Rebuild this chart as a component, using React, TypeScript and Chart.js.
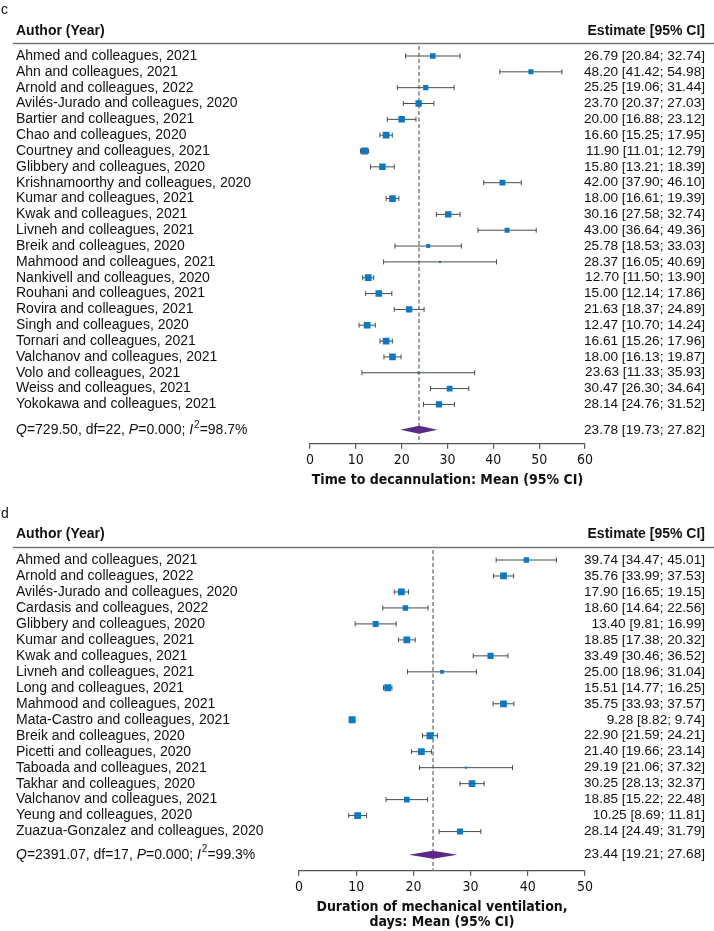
import React, { useEffect, useRef } from "react";
import { Chart, registerables } from "chart.js";

Chart.register(...registerables);

// ---------- Panel c: Time to decannulation ----------
const studiesC = [
  "Ahmed and colleagues, 2021",
  "Ahn and colleagues, 2021",
  "Arnold and colleagues, 2022",
  "Avilés-Jurado and colleagues, 2020",
  "Bartier and colleagues, 2021",
  "Chao and colleagues, 2020",
  "Courtney and colleagues, 2021",
  "Glibbery and colleagues, 2020",
  "Krishnamoorthy and colleagues, 2020",
  "Kumar and colleagues, 2021",
  "Kwak and colleagues, 2021",
  "Livneh and colleagues, 2021",
  "Breik and colleagues, 2020",
  "Mahmood and colleagues, 2021",
  "Nankivell and colleagues, 2020",
  "Rouhani and colleagues, 2021",
  "Rovira and colleagues, 2021",
  "Singh and colleagues, 2020",
  "Tornari and colleagues, 2021",
  "Valchanov and colleagues, 2021",
  "Volo and colleagues, 2021",
  "Weiss and colleagues, 2021",
  "Yokokawa and colleagues, 2021",
];
const meanC = [26.79, 48.2, 25.25, 23.7, 20.0, 16.6, 11.9, 15.8, 42.0, 18.0, 30.16, 43.0, 25.78, 28.37, 12.7, 15.0, 21.63, 12.47, 16.61, 18.0, 23.63, 30.47, 28.14];
const lowerC = [20.84, 41.42, 19.06, 20.37, 16.88, 15.25, 11.01, 13.21, 37.9, 16.61, 27.58, 36.64, 18.53, 16.05, 11.5, 12.14, 18.37, 10.7, 15.26, 16.13, 11.33, 26.3, 24.76];
const upperC = [32.74, 54.98, 31.44, 27.03, 23.12, 17.95, 12.79, 18.39, 46.1, 19.39, 32.74, 49.36, 33.03, 40.69, 13.9, 17.86, 24.89, 14.24, 17.96, 19.87, 35.93, 34.64, 31.52];
const weightsC = [4.0, 3.2, 3.4, 5.2, 5.3, 5.8, 6.0, 5.4, 4.3, 5.8, 5.3, 3.0, 2.0, 0.6, 5.9, 5.5, 5.2, 5.7, 5.8, 5.6, 0.6, 4.3, 5.0];
const summaryC = [23.78, 19.73, 27.82];
const statsC = { Q: "729.50", df: "22", P: "0.000", I2: "98.7%" };
const xTicksC = [0, 10, 20, 30, 40, 50, 60];
const xTitleC = "Time to decannulation: Mean (95% CI)";

// ---------- Panel d: Duration of mechanical ventilation ----------
const studiesD = [
  "Ahmed and colleagues, 2021",
  "Arnold and colleagues, 2022",
  "Avilés-Jurado and colleagues, 2020",
  "Cardasis and colleagues, 2022",
  "Glibbery and colleagues, 2020",
  "Kumar and colleagues, 2021",
  "Kwak and colleagues, 2021",
  "Livneh and colleagues, 2021",
  "Long and colleagues, 2021",
  "Mahmood and colleagues, 2021",
  "Mata-Castro and colleagues, 2021",
  "Breik and colleagues, 2020",
  "Picetti and colleagues, 2020",
  "Taboada and colleagues, 2021",
  "Takhar and colleagues, 2020",
  "Valchanov and colleagues, 2021",
  "Yeung and colleagues, 2020",
  "Zuazua-Gonzalez and colleagues, 2020",
];
const meanD = [39.74, 35.76, 17.9, 18.6, 13.4, 18.85, 33.49, 25.0, 15.51, 35.75, 9.28, 22.9, 21.4, 29.19, 30.25, 18.85, 10.25, 28.14];
const lowerD = [34.47, 33.99, 16.65, 14.64, 9.81, 17.38, 30.46, 18.96, 14.77, 33.93, 8.82, 21.59, 19.66, 21.06, 28.13, 15.22, 8.69, 24.49];
const upperD = [45.01, 37.53, 19.15, 22.56, 16.99, 20.32, 36.52, 31.04, 16.25, 37.57, 9.74, 24.21, 23.14, 37.32, 32.37, 22.48, 11.81, 31.79];
const weightsD = [3.6, 5.8, 5.8, 3.8, 4.6, 5.8, 4.8, 1.8, 6.0, 5.8, 6.2, 6.0, 5.8, 0.6, 5.6, 4.2, 5.8, 4.6];
const summaryD = [23.44, 19.21, 27.68];
const statsD = { Q: "2391.07", df: "17", P: "0.000", I2: "99.3%" };
const xTicksD = [0, 10, 20, 30, 40, 50];
const xTitleD = ["Duration of mechanical ventilation,", "days: Mean (95% CI)"];

// ---------- styling ----------
const SANS = '"Liberation Sans", Arial, Helvetica, sans-serif';
const NARROW = '"Liberation Sans Narrow", "Arial Narrow", "DejaVu Sans Condensed", sans-serif';
const TEXT = "#111111";
const SQUARE = "#0879c6";
const WHISKER = "#4a4a4a";
const DIAMOND = "#5b2a86";
const RIGHT_X = 705;

const fmt = (v: number) => v.toFixed(2);

const forestPlugin = {
  id: "forest",
  beforeDatasetsDraw(chart: any, _a: any, o: any) {
    const { ctx, chartArea, scales } = chart;
    const x = scales.x;
    const y = scales.y;
    ctx.save();
    // reference (summary) dashed line
    const xs = x.getPixelForValue(o.summary[0]);
    ctx.strokeStyle = "#808080";
    ctx.lineWidth = 1.5;
    ctx.setLineDash([4, 2.5]);
    ctx.beginPath();
    ctx.moveTo(xs, chartArea.top);
    ctx.lineTo(xs, chartArea.bottom);
    ctx.stroke();
    ctx.setLineDash([]);
    // whiskers
    ctx.strokeStyle = WHISKER;
    ctx.lineWidth = 1;
    o.lower.forEach((lo: number, i: number) => {
      const yy = y.getPixelForValue(i);
      const x1 = x.getPixelForValue(lo);
      const x2 = x.getPixelForValue(o.upper[i]);
      ctx.beginPath();
      ctx.moveTo(x1, yy);
      ctx.lineTo(x2, yy);
      ctx.moveTo(x1, yy - 2.5);
      ctx.lineTo(x1, yy + 2.5);
      ctx.moveTo(x2, yy - 2.5);
      ctx.lineTo(x2, yy + 2.5);
      ctx.stroke();
    });
    // summary diamond
    const ys = y.getPixelForValue(o.summaryRow);
    const xl = x.getPixelForValue(o.summary[1]);
    const xh = x.getPixelForValue(o.summary[2]);
    ctx.fillStyle = DIAMOND;
    ctx.beginPath();
    ctx.moveTo(xl, ys);
    ctx.lineTo(xs, ys - 4);
    ctx.lineTo(xh, ys);
    ctx.lineTo(xs, ys + 4);
    ctx.closePath();
    ctx.fill();
    ctx.restore();
  },
  afterDraw(chart: any, _a: any, o: any) {
    const { ctx, scales, width } = chart;
    const y = scales.y;
    ctx.save();
    ctx.textBaseline = "middle";
    ctx.fillStyle = TEXT;
    // panel letter
    ctx.font = `14px ${SANS}`;
    ctx.textAlign = "left";
    ctx.fillText(o.letter, 1, y.getPixelForValue(-2.88));
    // headers
    ctx.font = `bold 14px ${SANS}`;
    ctx.fillText("Author (Year)", 16, y.getPixelForValue(-1.6));
    ctx.textAlign = "right";
    ctx.fillText("Estimate [95% CI]", RIGHT_X, y.getPixelForValue(-1.6));
    // header rule
    const yl = Math.round(y.getPixelForValue(-0.82)) + 0.5;
    ctx.strokeStyle = "#777777";
    ctx.lineWidth = 1.5;
    ctx.beginPath();
    ctx.moveTo(13, yl);
    ctx.lineTo(width, yl);
    ctx.stroke();
    // study rows
    o.studies.forEach((s: string, i: number) => {
      const yy = y.getPixelForValue(i);
      ctx.font = `14px ${SANS}`;
      ctx.textAlign = "left";
      ctx.fillText(s, 16, yy);
      ctx.font = `13.6px ${SANS}`;
      ctx.textAlign = "right";
      ctx.fillText(`${fmt(o.mean[i])} [${fmt(o.lower[i])}; ${fmt(o.upper[i])}]`, RIGHT_X, yy);
    });
    // summary row
    const ys = y.getPixelForValue(o.summaryRow);
    ctx.font = `13.6px ${SANS}`;
    ctx.textAlign = "right";
    ctx.fillText(`${fmt(o.summary[0])} [${fmt(o.summary[1])}; ${fmt(o.summary[2])}]`, RIGHT_X, ys);
    const parts: [string, string][] = [
      ["Q", "i"],
      [`=${o.stats.Q}, df=${o.stats.df}, `, "n"],
      ["P", "i"],
      [`=${o.stats.P}; `, "n"],
      ["I", "i"],
      ["2", "s"],
      [`=${o.stats.I2}`, "n"],
    ];
    ctx.textAlign = "left";
    let cx = 16;
    parts.forEach(([t, k]) => {
      if (k === "i") ctx.font = `italic 14px ${SANS}`;
      else if (k === "s") ctx.font = `10px ${SANS}`;
      else ctx.font = `14px ${SANS}`;
      ctx.fillText(t, cx, k === "s" ? ys - 5 : ys);
      cx += ctx.measureText(t).width + (k === "i" && t === "I" ? 1 : 0);
    });
    ctx.restore();
  },
};

type PanelProps = {
  letter: string;
  studies: string[];
  mean: number[];
  lower: number[];
  upper: number[];
  weights: number[];
  summary: number[];
  stats: { Q: string; df: string; P: string; I2: string };
  xTicks: number[];
  xTitle: string | string[];
  height: number;
  padLeft: number;
  padRight: number;
  padTop: number;
  padBottom: number;
  yMin: number;
  yMax: number;
  summaryRow: number;
};

function ForestPanel(p: PanelProps) {
  const ref = useRef<HTMLCanvasElement>(null);
  useEffect(() => {
    if (!ref.current) return;
    const radii = p.weights.map((w) => 2.8 * Math.sqrt(w) * Math.SQRT1_2);
    const chart = new Chart(ref.current, {
      type: "scatter",
      data: {
        datasets: [
          {
            data: p.mean.map((m, i) => ({ x: m, y: i })),
            pointStyle: "rect",
            pointRadius: radii,
            pointHoverRadius: radii,
            backgroundColor: SQUARE,
            borderWidth: 0,
          },
        ],
      },
      options: {
        responsive: false,
        animation: false,
        devicePixelRatio: 1,
        events: [],
        layout: { padding: { left: p.padLeft, right: p.padRight, top: p.padTop, bottom: p.padBottom } },
        plugins: {
          legend: { display: false },
          tooltip: { enabled: false },
          forest: {
            letter: p.letter,
            studies: p.studies,
            mean: p.mean,
            lower: p.lower,
            upper: p.upper,
            summary: p.summary,
            stats: p.stats,
            summaryRow: p.summaryRow,
          },
        } as any,
        scales: {
          x: {
            type: "linear",
            min: p.xTicks[0],
            max: p.xTicks[p.xTicks.length - 1],
            afterBuildTicks: (axis: any) => {
              axis.ticks = p.xTicks.map((v) => ({ value: v }));
            },
            ticks: { font: { family: NARROW, size: 14 }, color: TEXT, padding: 3 },
            grid: { drawOnChartArea: false, drawTicks: true, tickLength: 5, color: "#555555", lineWidth: 1.2 },
            border: { display: true, color: "#555555", width: 1.2 },
            title: {
              display: true,
              text: p.xTitle as any,
              color: TEXT,
              font: { family: NARROW, size: 14, weight: "bold", lineHeight: "15px" } as any,
              padding: { top: 1, bottom: 0 },
            },
          },
          y: { type: "linear", display: false, reverse: true, min: p.yMin, max: p.yMax },
        },
      },
      plugins: [forestPlugin as any],
    });
    return () => chart.destroy();
  }, []);
  return (
    <canvas
      ref={ref}
      width={714}
      height={p.height}
      style={{ display: "block", width: 714, height: p.height }}
    />
  );
}

export default function App() {
  useEffect(() => {
    document.body.style.margin = "0";
  }, []);
  return (
    <div style={{ width: 714, background: "#fff" }}>
      <ForestPanel
        letter="c"
        studies={studiesC}
        mean={meanC}
        lower={lowerC}
        upper={upperC}
        weights={weightsC}
        summary={summaryC}
        stats={statsC}
        xTicks={xTicksC}
        xTitle={xTitleC}
        height={503}
        padLeft={310}
        padRight={129}
        padTop={46}
        padBottom={15.5}
        yMin={-0.631}
        yMax={24.48}
        summaryRow={23.6}
      />
      <ForestPanel
        letter="d"
        studies={studiesD}
        mean={meanD}
        lower={lowerD}
        upper={upperD}
        weights={weightsD}
        summary={summaryD}
        stats={statsD}
        xTicks={xTicksD}
        xTitle={xTitleD}
        height={428}
        padLeft={299}
        padRight={129}
        padTop={47}
        padBottom={1.5}
        yMin={-0.627}
        yMax={19.45}
        summaryRow={18.45}
      />
    </div>
  );
}
